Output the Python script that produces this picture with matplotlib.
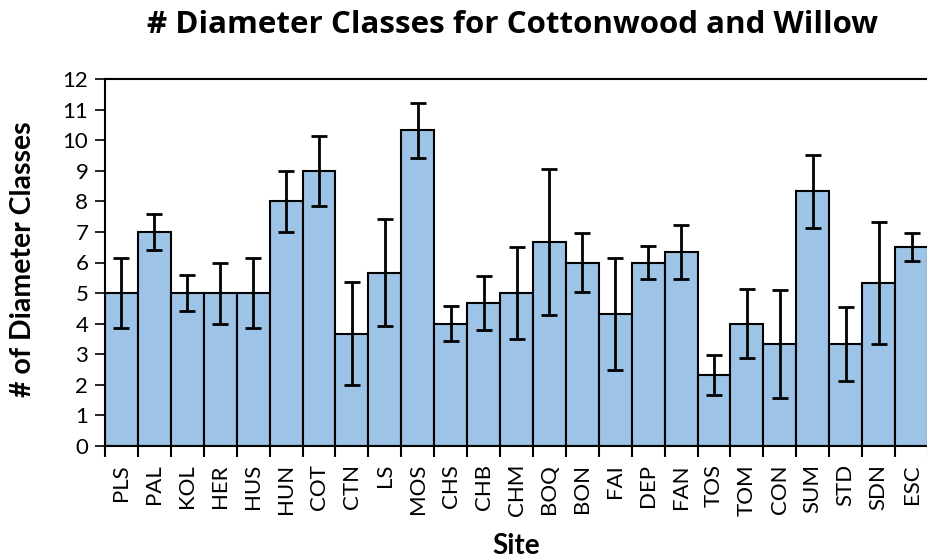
import matplotlib.pyplot as plt
import numpy as np

sites = ['PLS', 'PAL', 'KOL', 'HER', 'HUS', 'HUN', 'COT', 'CTN', 'LS', 'MOS',
         'CHS', 'CHB', 'CHM', 'BOQ', 'BON', 'FAI', 'DEP', 'FAN', 'TOS', 'TOM',
         'CON', 'SUM', 'STD', 'SDN', 'ESC']
n_classes = [5, 7, 5, 5, 5, 8, 9, 3.67, 5.67, 10.33,
             4, 4.67, 5, 6.67, 6, 4.33, 6, 6.33, 2.33, 4,
             3.33, 8.33, 3.33, 5.33, 6.5]
err = [1.15, 0.58, 0.58, 1.0, 1.15, 1.0, 1.15, 1.69, 1.75, 0.9,
       0.58, 0.88, 1.5, 2.4, 0.97, 1.83, 0.55, 0.88, 0.66, 1.12,
       1.76, 1.2, 1.2, 2.0, 0.46]

plt.rcParams['font.family'] = ['Lato', 'DejaVu Sans']

fig = plt.figure(figsize=(9.28, 5.6), dpi=100)
ax = fig.add_axes([105/928, 1 - 446/560, 1 - 105/928, (446 - 79)/560])

x = np.arange(len(sites))
ax.bar(x, n_classes, width=1.0, color='#9DC3E6', edgecolor='black', linewidth=1.5,
       yerr=err, error_kw=dict(ecolor='black', elinewidth=2, capsize=6, capthick=2))

ax.set_xlim(-0.5, len(sites) - 0.5)
ax.set_ylim(0, 12)
ax.set_yticks(range(0, 13))
ax.tick_params(axis='y', direction='out', length=7, width=1.2, labelsize=16, pad=5)

# site names at bar centres, tick marks at bar edges
ax.set_xticks(x)
ax.set_xticklabels(sites, rotation=90, fontsize=16)
ax.tick_params(axis='x', which='major', length=0, pad=13)
ax.set_xticks(np.arange(-0.5, len(sites)), minor=True)
ax.tick_params(axis='x', which='minor', direction='out', length=8, width=1.5)

for s in ['left', 'bottom', 'top']:
    ax.spines[s].set_linewidth(1.5)
ax.spines['right'].set_visible(False)

ax.set_ylabel('# of Diameter Classes', fontsize=20.5, fontweight='bold')
ax.yaxis.label.set_va('center')
ax.yaxis.set_label_coords(-0.1, 0.51)
ax.set_xlabel('Site', fontsize=20, fontweight='bold')
ax.xaxis.label.set_va('center')
ax.xaxis.set_label_coords(0.5, -0.272)

fig.text(0.552, 1 - 25/560, '# Diameter Classes for Cottonwood and Willow',
         fontsize=22.5, fontweight='bold', ha='center', va='center',
         family=['Open Sans', 'DejaVu Sans'])

fig.savefig('out.png', dpi=100)
